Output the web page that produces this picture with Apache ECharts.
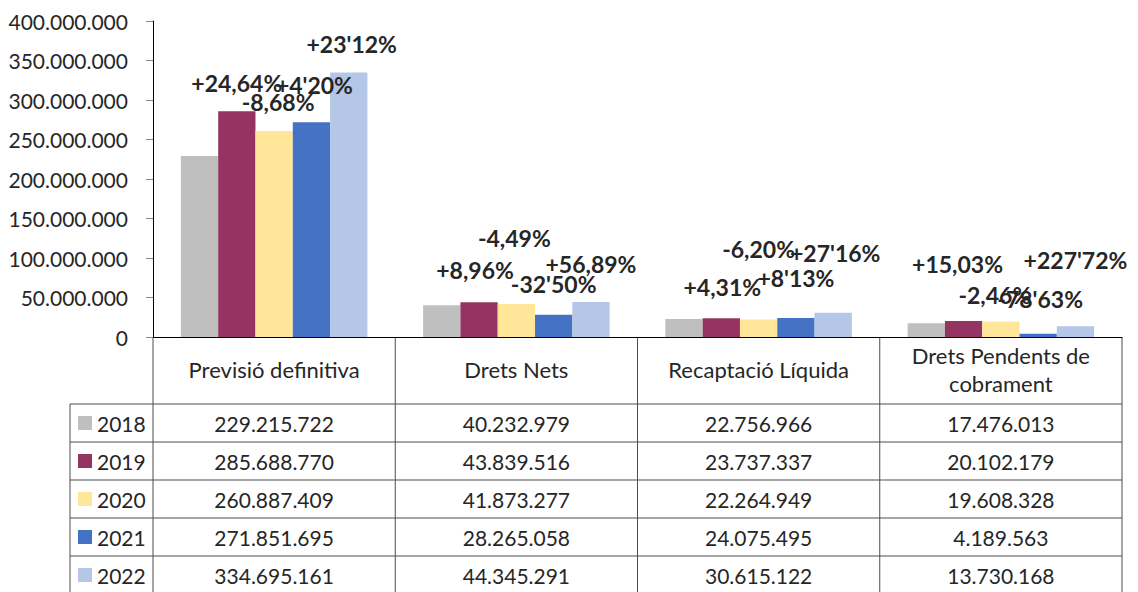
<!DOCTYPE html>
<html>
<head>
<meta charset="utf-8">
<script src="https://cdn.jsdelivr.net/npm/echarts@6/dist/echarts.min.js"></script>
<style>
  html, body { margin: 0; padding: 0; background: #fff; }
  #chart { width: 1138px; height: 592px; }
</style>
</head>
<body>
<div id="chart"></div>
<script>
// data
const categories = ['Previsió definitiva', 'Drets Nets', 'Recaptació Líquida', 'Drets Pendents de\ncobrament'];
const years = ['2018', '2019', '2020', '2021', '2022'];

const v2018 = [229215722, 40232979, 22756966, 17476013];
const v2019 = [285688770, 43839516, 23737337, 20102179];
const v2020 = [260887409, 41873277, 22264949, 19608328];
const v2021 = [271851695, 28265058, 24075495, 4189563];
const v2022 = [334695161, 44345291, 30615122, 13730168];

const pct2018 = [null, null, null, null];
const pct2019 = ['+24,64%', '+8,96%', '+4,31%', '+15,03%'];
const pct2020 = ['-8,68%', '-4,49%', '-6,20%', '-2,46%'];
const pct2021 = ["+4'20%", "-32'50%", "+8'13%", "-78'63%"];
const pct2022 = ["+23'12%", "+56,89%", "+27'16%", "+227'72%"];

const yTicks = [0, 50000000, 100000000, 150000000, 200000000, 250000000, 300000000, 350000000, 400000000];

// styling
const colors = ['#bfbfbf', '#953462', '#ffe699', '#4472c4', '#b4c7e7'];
// label nudges (px) per series/category, so the labels sit like in the original
const labelNudge = [
  [[0, 0], [0, 0], [0, 0], [0, 0]],
  [[0, -12], [-4, -16], [1, -15], [-6, -41]],
  [[4, -12], [-2, -49], [0, -54], [-6, -10]],
  [[3, -21], [0, -14], [0, -23], [2, -18]],
  [[3, -12], [0, -21], [2, -43], [0, -50]]
];

const FONT = 'Lato';
const TXT = '#262626';
const LINE = '#4d4d4d';

const gridL = 153, gridR = 1122, gridT = 21, zeroY = 337;
const colW = (gridR - gridL) / categories.length;
const legL = 70;
const headB = 404, rowH = 38;

function fmt(n) {
  return String(n).replace(/\B(?=(\d{3})+(?!\d))/g, '.');
}

const values = [v2018, v2019, v2020, v2021, v2022];
const pcts = [pct2018, pct2019, pct2020, pct2021, pct2022];

const series = years.map((y, i) => ({
  name: y,
  type: 'bar',
  barGap: '0%',
  barCategoryGap: '23%',
  itemStyle: { color: colors[i] },
  data: values[i].map((v, j) => ({
    value: v,
    label: {
      show: pcts[i][j] != null,
      position: 'top',
      distance: 5,
      offset: labelNudge[i][j],
      formatter: () => pcts[i][j] || '',
      fontFamily: FONT,
      fontWeight: 'bold',
      fontSize: 23,
      color: TXT
    }
  }))
}));

// data table under the plot
const graphic = [];
function hline(x1, x2, y) {
  graphic.push({ type: 'line', shape: { x1, y1: y, x2, y2: y }, style: { stroke: LINE, lineWidth: 1 }, silent: true });
}
function vline(x, y1, y2) {
  graphic.push({ type: 'line', shape: { x1: x, y1, x2: x, y2 }, style: { stroke: LINE, lineWidth: 1 }, silent: true });
}
function text(x, y, s, align, size) {
  graphic.push({
    type: 'text', x, y, silent: true,
    style: { text: s, font: (size || 21) + 'px ' + FONT, fill: TXT, align: align || 'center', verticalAlign: 'middle', lineHeight: 28 }
  });
}

for (let c = 0; c <= categories.length; c++) vline(gridL + c * colW, zeroY, 600);
vline(legL, headB, 600);
for (let r = 0; r < years.length; r++) hline(legL, gridR, headB + r * rowH);

categories.forEach((cat, c) => text(gridL + (c + 0.5) * colW, (zeroY + headB) / 2 - 1, cat, 'center', 22));

years.forEach((y, r) => {
  const cy = headB + (r + 0.5) * rowH;
  graphic.push({ type: 'rect', shape: { x: legL + 8, y: cy - 7, width: 14, height: 14 }, style: { fill: colors[r] }, silent: true });
  text(legL + 27, cy, y, 'left');
  values[r].forEach((v, c) => text(gridL + (c + 0.5) * colW, cy, fmt(v)));
});

const chart = echarts.init(document.getElementById('chart'), null, { renderer: 'svg' });
chart.setOption({
  animation: false,
  grid: { left: gridL, right: 1138 - gridR, top: gridT, bottom: 592 - zeroY },
  xAxis: {
    type: 'category',
    data: categories,
    axisLine: { lineStyle: { color: '#000', width: 1 } },
    axisTick: { show: false },
    axisLabel: { show: false }
  },
  yAxis: {
    type: 'value',
    min: yTicks[0],
    max: yTicks[yTicks.length - 1],
    interval: yTicks[1] - yTicks[0],
    axisLine: { show: true, lineStyle: { color: '#000', width: 1 } },
    axisTick: { show: true, length: 7, lineStyle: { color: '#868686' } },
    splitLine: { show: false },
    axisLabel: {
      margin: 25,
      fontFamily: FONT,
      fontSize: 21,
      color: TXT,
      formatter: v => fmt(v)
    }
  },
  series,
  graphic
});
</script>
</body>
</html>
